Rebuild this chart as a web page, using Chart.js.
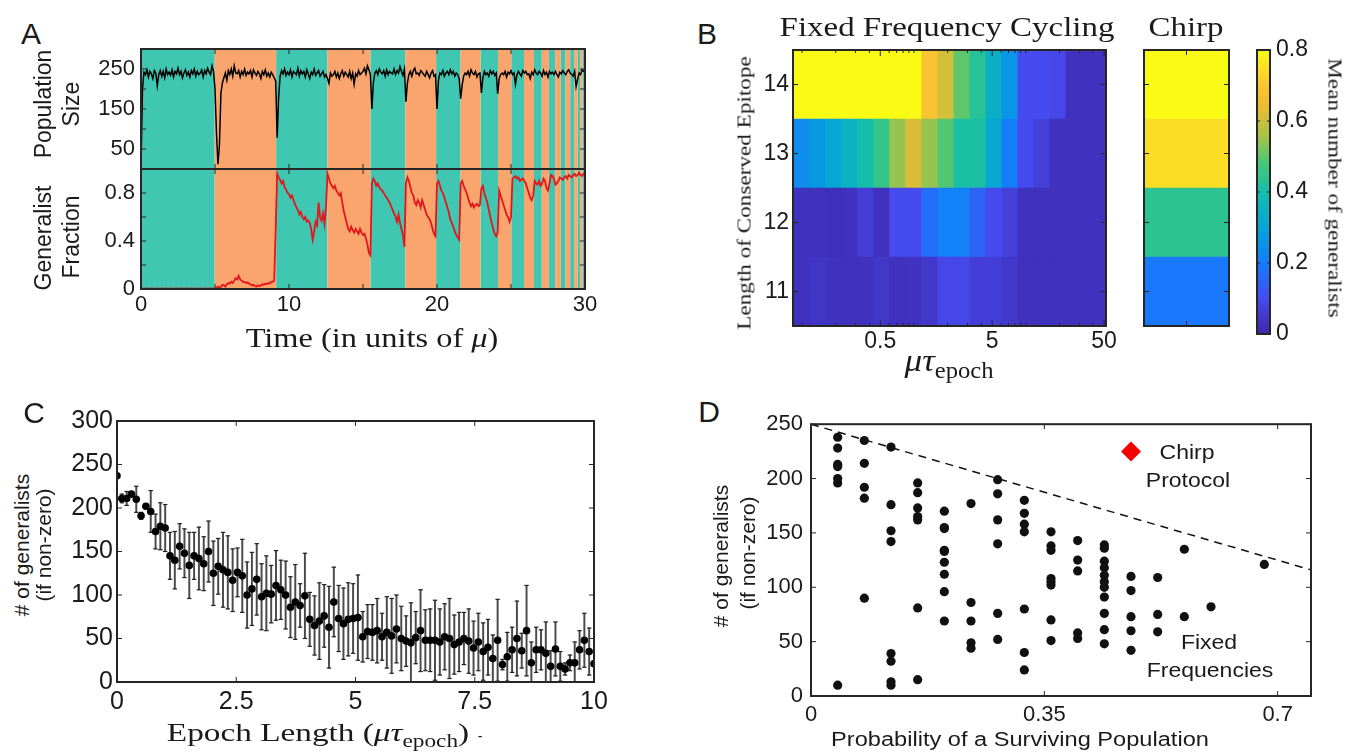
<!DOCTYPE html>
<html>
<head>
<meta charset="utf-8">
<script src="https://cdn.jsdelivr.net/npm/chart.js@4.4.0/dist/chart.umd.min.js"></script>
<style>
  body { margin: 0; background: #fff; }
  #fig { position: relative; width: 1345px; height: 752px; overflow: hidden; background: #fff; }
  canvas { position: absolute; }
  .lbl { position: absolute; white-space: nowrap; line-height: 1; color: #1a1a1a; }
  .sans { font-family: 'Liberation Sans', Arial, sans-serif; }
  .serif { font-family: 'Liberation Serif', 'Times New Roman', serif; }
  .lbl sub { font-size: 70%; vertical-align: -0.3em; font-style: normal; }
</style>
</head>
<body>
<div id="fig">
  <canvas id="popChart"></canvas>
  <canvas id="fracChart"></canvas>
  <canvas id="heatChart"></canvas>
  <canvas id="chirpChart"></canvas>
  <canvas id="barChart"></canvas>
  <canvas id="epochChart"></canvas>
  <canvas id="survChart"></canvas>
</div>
<script>
// ---------- panel A : time series (step 0.1 in units of mu) ----------
const timeStep = 0.1;
const epochEdges = [0, 4.98, 9.13, 12.6, 15.5, 17.86, 19.94, 21.59, 22.94, 24.12, 25.02, 25.88,
  26.55, 27.08, 27.56, 27.99, 28.37, 28.69, 29.0, 29.27, 29.5, 29.68, 29.84, 30];

const popSize = [
  5, 200, 242, 236, 248, 230, 244, 238, 226, 246,
  240, 208, 236, 246, 232, 244, 228, 250, 236, 242,
  234, 248, 230, 244, 238, 252, 236, 244, 228, 240,
  248, 234, 242, 230, 246, 238, 250, 232, 244, 236,
  240, 248, 230, 246, 238, 252, 242, 236, 258, 244,
  200, 90, 12, 60, 190, 215, 228, 240, 222, 246,
  236, 250, 232, 258, 240, 238, 246, 230, 244, 236,
  250, 234, 242, 238, 246, 230, 248, 240, 234, 244,
  238, 226, 244, 236, 248, 232, 240, 230, 242, 236,
  228, 220, 78, 180, 232, 246, 238, 250, 234, 242,
  236, 248, 230, 244, 240, 236, 252, 232, 246, 238,
  244, 230, 248, 238, 226, 242, 236, 250, 234, 240,
  246, 232, 238, 244, 230, 236, 226, 214, 240, 232,
  236, 244, 230, 240, 226, 238, 246, 232, 242, 236,
  230, 244, 226, 240, 212, 238, 232, 246, 236, 240,
  244, 252, 238, 258, 248, 236, 150, 215, 240, 246,
  236, 250, 242, 238, 246, 232, 248, 236, 244, 240,
  238, 250, 236, 246, 240, 256, 244, 234, 250, 168,
  215, 236, 244, 232, 246, 252, 238, 240, 234, 246,
  242, 236, 232, 244, 236, 228, 240, 246, 232, 236,
  150, 222, 240, 236, 246, 232, 240, 244, 236, 248,
  238, 244, 232, 240, 236, 226, 176, 210, 232, 240,
  236, 244, 232, 248, 240, 236, 244, 230, 238, 240,
  190, 228, 244, 236, 240, 232, 246, 238, 244, 234,
  240, 188, 226, 236, 240, 236, 244, 230, 242, 238,
  246, 236, 240, 212, 236, 244, 238, 232, 246, 240,
  244, 236, 238, 226, 242, 236, 248, 240, 236, 244,
  240, 232, 246, 236, 242, 230, 244, 238, 242, 236,
  244, 236, 230, 242, 238, 246, 240, 236, 244, 248,
  240, 236, 232, 244, 206, 224, 240, 236, 248, 244,
  246
];

const genFraction = [
  0.004, 0.003, 0.002, 0.003, 0.004, 0.002, 0.003, 0.004, 0.003, 0.002,
  0.003, 0.004, 0.002, 0.003, 0.004, 0.003, 0.002, 0.004, 0.003, 0.002,
  0.004, 0.003, 0.002, 0.003, 0.004, 0.002, 0.003, 0.004, 0.003, 0.002,
  0.003, 0.004, 0.002, 0.003, 0.004, 0.003, 0.002, 0.004, 0.003, 0.002,
  0.004, 0.003, 0.002, 0.003, 0.004, 0.002, 0.003, 0.004, 0.003, 0.002,
  0.004, 0.01, 0.02, 0.005, 0.02, 0.035, 0.03, 0.02, 0.04, 0.05,
  0.045, 0.06, 0.05, 0.07, 0.09, 0.08, 0.11, 0.08, 0.07, 0.06,
  0.06, 0.05, 0.055, 0.045, 0.04, 0.03, 0.035, 0.025, 0.02, 0.03,
  0.025, 0.03, 0.04, 0.035, 0.045, 0.04, 0.05, 0.045, 0.06, 0.06,
  0.07, 0.5, 0.96, 0.93, 0.91, 0.88, 0.9, 0.85, 0.83, 0.8,
  0.79, 0.76, 0.78, 0.74, 0.71, 0.68, 0.66, 0.62, 0.64, 0.6,
  0.58, 0.6, 0.56, 0.57, 0.55, 0.5, 0.41, 0.48, 0.56, 0.53,
  0.72, 0.6, 0.57, 0.63, 0.54, 0.68, 0.96, 0.92, 0.88, 0.86,
  0.84, 0.86, 0.82, 0.8, 0.78, 0.8, 0.72, 0.65, 0.6, 0.55,
  0.5, 0.48, 0.52, 0.49, 0.47, 0.5, 0.48, 0.46, 0.5, 0.47,
  0.45, 0.46, 0.42, 0.37, 0.3, 0.28, 0.88, 0.92, 0.9, 0.86,
  0.88, 0.85, 0.83, 0.82, 0.8, 0.78, 0.76, 0.74, 0.72, 0.69,
  0.66, 0.63, 0.6, 0.56, 0.62, 0.55, 0.5, 0.45, 0.35, 0.88,
  0.93, 0.9, 0.85, 0.8, 0.78, 0.72, 0.7, 0.74, 0.72, 0.68,
  0.74, 0.7, 0.66, 0.62, 0.6, 0.58, 0.55, 0.5, 0.46, 0.44,
  0.88, 0.9, 0.86, 0.82, 0.8, 0.76, 0.72, 0.68, 0.64, 0.58,
  0.55, 0.52, 0.48, 0.45, 0.43, 0.41, 0.88, 0.9, 0.86, 0.83,
  0.8, 0.76, 0.72, 0.69, 0.71, 0.68, 0.7, 0.71, 0.69, 0.7,
  0.84, 0.86, 0.8, 0.76, 0.72, 0.66, 0.6, 0.55, 0.5, 0.46,
  0.44, 0.47, 0.82, 0.78, 0.74, 0.7, 0.66, 0.62, 0.6, 0.56,
  0.6, 0.92, 0.93, 0.94, 0.92, 0.93, 0.9, 0.91, 0.92, 0.9,
  0.88, 0.84, 0.8, 0.76, 0.74, 0.78, 0.9, 0.88, 0.87, 0.9,
  0.86, 0.88, 0.92, 0.9, 0.84, 0.82, 0.88, 0.95, 0.94, 0.92,
  0.87, 0.88, 0.9, 0.93, 0.92, 0.91, 0.93, 0.94, 0.92, 0.95,
  0.94, 0.93, 0.95, 0.96, 0.94, 0.95, 0.97, 0.95, 0.94, 0.96,
  0.95
];

// ---------- panel B : heat map ----------
const epitopeLengths = ['14', '13', '12', '11'];
const epochLenEdges = [0.083, 0.115, 0.16, 0.222, 0.309, 0.43, 0.598, 0.832, 1.157, 1.61, 2.24,
  3.11, 4.33, 6.02, 8.37, 11.6, 16.2, 22.5, 31.3, 43.6, 52];
const row14 = [0.8, 0.8, 0.8, 0.8, 0.8, 0.8, 0.8, 0.8, 0.69, 0.61, 0.5, 0.43, 0.34, 0.26, 0.1, 0.1, 0.09, 0.03, 0.03, 0.03];
const row13 = [0.24, 0.27, 0.31, 0.35, 0.4, 0.455, 0.545, 0.62, 0.545, 0.49, 0.41, 0.41, 0.31, 0.2, 0.1, 0.07, 0.03, 0.03, 0.03, 0.03];
const row12 = [0.03, 0.03, 0.025, 0.03, 0.065, 0.03, 0.1, 0.1, 0.17, 0.21, 0.21, 0.15, 0.1, 0.07, 0.03, 0.03, 0.03, 0.03, 0.03, 0.03];
const row11 = [0.03, 0.04, 0.035, 0.03, 0.03, 0.045, 0.03, 0.035, 0.05, 0.09, 0.09, 0.065, 0.065, 0.05, 0.03, 0.03, 0.03, 0.03, 0.03, 0.03];
const heatRows = [row14, row13, row12, row11];
const chirpValues = [0.8, 0.745, 0.44, 0.19];
const colorMax = 0.8;

// ---------- panel C : epoch length sweep ----------
const epochStep = 10 / 99;
const genMean = [237, 211, 211, 216, 210, 191, 202, 196, 173, 179,
  177, 145, 140, 156, 148, 134, 145, 142, 136, 150,
  125, 133, 129, 126, 117, 126, 122, 100, 107, 118,
  98, 102, 101, 111, 106, 100, 86, 92, 88, 99,
  72, 65, 70, 76, 63, 92, 73, 67, 72, 73,
  74, 52, 58, 57, 59, 52, 57, 53, 61, 50,
  47, 45, 51, 59, 48, 48, 48, 46, 52, 50,
  43, 46, 50, 47, 39, 46, 35, 40, 27, 48,
  20, 29, 37, 50, 36, 59, 22, 37, 37, 33,
  18, 38, 18, 15, 22, 22, 37, 48, 35, 21];
const genErr = [2, 5, 8, 3, 15, 4, 3, 24, 20, 27,
  27, 27, 33, 26, 28, 38, 27, 36, 31, 35,
  37, 32, 43, 42, 36, 28, 42, 38, 42, 41,
  38, 43, 33, 40, 34, 39, 35, 43, 25, 49,
  31, 34, 44, 36, 47, 40, 38, 41, 42, 40,
  49, 29, 31, 32, 37, 27, 41, 43, 39, 37,
  29, 46, 30, 47, 35, 36, 46, 38, 38, 46,
  34, 34, 30, 37, 31, 33, 33, 32, 27, 47,
  6, 28, 26, 43, 20, 52, 24, 26, 23, 36,
  18, 31, 17, 7, 9, 24, 22, 31, 27, 3];

// ---------- panel D : survival vs generalists ----------
const survProb = [0.04, 0.04, 0.04, 0.04, 0.04, 0.04, 0.04,
  0.08, 0.08, 0.08, 0.08, 0.08,
  0.12, 0.12, 0.12, 0.12, 0.12, 0.12, 0.12, 0.12,
  0.16, 0.16, 0.16, 0.16, 0.16, 0.16, 0.16,
  0.2, 0.2, 0.2, 0.2, 0.2, 0.2, 0.2, 0.2, 0.2,
  0.24, 0.24, 0.24, 0.24, 0.24,
  0.28, 0.28, 0.28, 0.28, 0.28, 0.28,
  0.32, 0.32, 0.32, 0.32, 0.32, 0.32, 0.32,
  0.36, 0.36, 0.36, 0.36, 0.36, 0.36, 0.36, 0.36,
  0.4, 0.4, 0.4, 0.4, 0.4,
  0.44, 0.44, 0.44, 0.44, 0.44, 0.44, 0.44, 0.44, 0.44, 0.44, 0.44,
  0.48, 0.48, 0.48, 0.48, 0.48,
  0.52, 0.52, 0.52,
  0.56, 0.56,
  0.6,
  0.68];
const survGen = [238, 228, 213, 211, 200, 196, 10,
  235, 214, 192, 182, 90,
  229, 176, 152, 142, 39, 32, 13, 10,
  196, 187, 173, 165, 162, 81, 15,
  170, 155, 154, 134, 133, 123, 112, 96, 69,
  177, 86, 69, 49, 44,
  199, 186, 162, 140, 76, 52,
  180, 168, 158, 151, 80, 40, 24,
  151, 138, 134, 108, 105, 102, 70, 51,
  143, 125, 115, 58, 53,
  139, 136, 124, 118, 111, 105, 100, 91, 76, 61, 48,
  110, 97, 73, 60, 42,
  109, 75, 59,
  135, 73,
  82,
  121];
const chirpPoint = { x: 0.48, y: 225 };
const boundLine = [{ x: 0, y: 250 }, { x: 0.75, y: 116 }];

// ---------- style ----------
const TEAL = 'rgb(64,199,178)';
const ORANGE = 'rgb(251,165,110)';
const SANS = "'Liberation Sans', Arial, sans-serif";
Chart.defaults.font.family = SANS;
Chart.defaults.color = '#1a1a1a';

const PARULA = [
  [0, 62, 38, 168], [0.125, 70, 75, 240], [0.25, 20, 125, 252], [0.375, 5, 165, 215],
  [0.5, 20, 190, 170], [0.6, 70, 200, 120], [0.7, 170, 195, 70], [0.8, 235, 188, 50],
  [0.875, 253, 196, 50], [1, 249, 251, 20]
];
function parula(t) {
  t = Math.max(0, Math.min(1, t));
  for (let i = 1; i < PARULA.length; i++) {
    if (t <= PARULA[i][0]) {
      const a = PARULA[i - 1], b = PARULA[i];
      const f = (t - a[0]) / (b[0] - a[0]);
      return 'rgb(' + [1, 2, 3].map(k => Math.round(a[k] + f * (b[k] - a[k]))).join(',') + ')';
    }
  }
  return 'rgb(249,251,20)';
}

// inward tick marks + box frame, like matlab axes
const boxTicks = {
  id: 'boxTicks',
  afterDatasetsDraw(chart, args, opts) {
    if (!opts || !opts.frameWidth) return;
    const { ctx, chartArea: a } = chart;
    ctx.save();
    ctx.strokeStyle = '#262626';
    ctx.lineWidth = 1;
    ctx.beginPath();
    ['x', 'y'].forEach(id => {
      const spec = opts[id], sc = chart.scales[id];
      if (!spec || !sc) return;
      sc.ticks.forEach((t, i) => {
        const p = sc.getPixelForTick(i);
        const len = spec.major && spec.major.includes(t.value) ? spec.majorLen : spec.len;
        spec.sides.forEach(side => {
          if (side === 'bottom') { ctx.moveTo(p, a.bottom); ctx.lineTo(p, a.bottom - len); }
          if (side === 'top') { ctx.moveTo(p, a.top); ctx.lineTo(p, a.top + len); }
          if (side === 'left') { ctx.moveTo(a.left, p); ctx.lineTo(a.left + len, p); }
          if (side === 'right') { ctx.moveTo(a.right, p); ctx.lineTo(a.right - len, p); }
        });
      });
    });
    ctx.stroke();
    ctx.lineWidth = opts.frameWidth;
    ctx.strokeRect(a.left, a.top, a.right - a.left, a.bottom - a.top);
    ctx.restore();
  }
};
Chart.register(boxTicks);

const M = 20; // canvas margin round the plotting box
function place(id, area, ax) {
  const cv = document.getElementById(id);
  const l = ax.l || 0, r = ax.r || 0, b = ax.b || 0;
  const w = area.r - area.l + l + r + 2 * M;
  const h = area.b - area.t + b + 2 * M;
  cv.width = w; cv.height = h;
  cv.style.width = w + 'px'; cv.style.height = h + 'px';
  cv.style.left = (area.l - l - M) + 'px';
  cv.style.top = (area.t - M) + 'px';
  return cv;
}
const fixW = w => s => { s.width = w; };
const fixH = h => s => { s.height = h; };
const noGrid = { display: false, drawTicks: false };
const noBorder = { display: false };

function baseOptions(extra) {
  return Object.assign({
    responsive: false, animation: false, devicePixelRatio: 1, events: [],
    layout: { padding: M }
  }, extra);
}
const quiet = { legend: { display: false }, tooltip: { enabled: false } };

function bandSeries(yTop, which) {
  const pts = [];
  for (let i = 0; i < epochEdges.length - 1; i++) {
    pts.push({ x: epochEdges[i], y: i % 2 === which ? yTop : 0 });
  }
  pts.push({ x: epochEdges[epochEdges.length - 1], y: 0 });
  return pts;
}
function bandDatasets(yTop) {
  return [
    { data: bandSeries(yTop, 1), stepped: 'before', fill: 'origin', backgroundColor: ORANGE, borderWidth: 0, pointRadius: 0, order: 1 },
    { data: bandSeries(yTop, 0), stepped: 'before', fill: 'origin', backgroundColor: TEAL, borderWidth: 0, pointRadius: 0, order: 2 }
  ];
}

// ---------- A top: population size ----------
new Chart(place('popChart', { l: 141, t: 49, r: 585, b: 169 }, { l: 70 }), {
  type: 'line',
  data: {
    datasets: [
      { data: popSize.map((v, i) => ({ x: i * timeStep, y: v })), borderColor: '#000', borderWidth: 1.5, pointRadius: 0, tension: 0, order: 0 },
      ...bandDatasets(300)
    ]
  },
  options: baseOptions({
    plugins: Object.assign({ boxTicks: { frameWidth: 2, x: { len: 5, sides: ['top', 'bottom'] }, y: { len: 5, sides: ['left', 'right'] } } }, quiet),
    scales: {
      x: { type: 'linear', min: 0, max: 30, afterFit: fixH(0), grid: noGrid, border: noBorder,
        ticks: { stepSize: 5, autoSkip: false, callback: () => '' } },
      y: { min: 0, max: 300, afterFit: fixW(70), grid: noGrid, border: noBorder,
        ticks: { stepSize: 50, padding: 6, autoSkip: false, font: { size: 22 }, callback: v => (v % 100 === 50 ? String(v) : '') } }
    }
  })
});

// ---------- A bottom: generalist fraction ----------
new Chart(place('fracChart', { l: 141, t: 169, r: 585, b: 289 }, { l: 70, b: 36 }), {
  type: 'line',
  data: {
    datasets: [
      { data: genFraction.map((v, i) => ({ x: i * timeStep, y: v })), borderColor: '#e3161b', borderWidth: 1.8, pointRadius: 0, tension: 0, order: 0 },
      ...bandDatasets(1)
    ]
  },
  options: baseOptions({
    plugins: Object.assign({ boxTicks: { frameWidth: 2, x: { len: 5, sides: ['top', 'bottom'] }, y: { len: 5, sides: ['left', 'right'] } } }, quiet),
    scales: {
      x: { type: 'linear', min: 0, max: 30, afterFit: fixH(36), grid: noGrid, border: noBorder,
        ticks: { stepSize: 5, padding: 3, font: { size: 22 }, maxRotation: 0, autoSkip: false,
          callback: v => (v % 10 === 0 ? String(v) : '') } },
      y: { min: 0, max: 1, afterFit: fixW(70), grid: noGrid, border: noBorder,
        ticks: { stepSize: 0.2, padding: 6, font: { size: 22 }, autoSkip: false,
          callback: v => { const r = Math.round(v * 10); return r === 0 ? '0' : (r === 4 || r === 8 ? (r / 10).toString() : ''); } } }
    }
  })
});

// ---------- B: fixed frequency heat map ----------
const heatTicks = [0.1, 0.2, 0.3, 0.4, 0.5, 0.6, 0.7, 0.8, 0.9, 1, 2, 3, 4, 5, 6, 7, 8, 9, 10, 20, 30, 40, 50];
const heatLabels = [0.5, 5, 50];
new Chart(place('heatChart', { l: 793, t: 50, r: 1106, b: 326 }, { l: 44, b: 34 }), {
  type: 'bar',
  data: {
    labels: epitopeLengths,
    datasets: epochLenEdges.slice(0, -1).map((e, c) => ({
      data: heatRows.map(() => [epochLenEdges[c], epochLenEdges[c + 1]]),
      backgroundColor: heatRows.map(row => parula(row[c] / colorMax)),
      borderWidth: 0, grouped: false, categoryPercentage: 1, barPercentage: 1
    }))
  },
  options: baseOptions({
    indexAxis: 'y',
    plugins: Object.assign({ boxTicks: { frameWidth: 2,
      x: { len: 3, majorLen: 6, major: heatLabels, sides: ['top', 'bottom'] },
      y: { len: 5, sides: ['left', 'right'] } } }, quiet),
    scales: {
      x: { type: 'logarithmic', min: 0.083, max: 52, afterFit: fixH(34), grid: noGrid, border: noBorder,
        afterBuildTicks: s => { s.ticks = heatTicks.map(v => ({ value: v })); },
        ticks: { padding: 2, font: { size: 23 }, maxRotation: 0, autoSkip: false,
          callback: v => (heatLabels.includes(v) ? String(v) : '') } },
      y: { type: 'category', afterFit: fixW(44), grid: noGrid, border: noBorder,
        ticks: { padding: 4, font: { size: 23 }, autoSkip: false } }
    }
  })
});

// ---------- B: chirp column ----------
new Chart(place('chirpChart', { l: 1144, t: 50, r: 1229, b: 326 }, {}), {
  type: 'bar',
  data: {
    labels: epitopeLengths,
    datasets: [{
      data: chirpValues.map(() => [0, 1]),
      backgroundColor: chirpValues.map(v => parula(v / colorMax)),
      borderWidth: 0, categoryPercentage: 1, barPercentage: 1
    }]
  },
  options: baseOptions({
    indexAxis: 'y',
    plugins: Object.assign({ boxTicks: { frameWidth: 2, x: { len: 5, sides: ['bottom', 'top'] }, y: { len: 5, sides: ['right', 'left'] } } }, quiet),
    scales: {
      x: { type: 'linear', min: 0, max: 1, afterFit: fixH(0), grid: noGrid, border: noBorder,
        afterBuildTicks: s => { s.ticks = [{ value: 0.5 }]; }, ticks: { callback: () => '' } },
      y: { type: 'category', afterFit: fixW(0), grid: noGrid, border: noBorder, ticks: { autoSkip: false, callback: () => '' } }
    }
  })
});

// ---------- B: colour bar ----------
new Chart(place('barChart', { l: 1257, t: 50, r: 1270, b: 334 }, { r: 55 }), {
  type: 'bar',
  data: {
    labels: [''],
    datasets: [{
      data: [[0, colorMax]],
      backgroundColor: ctx => {
        const a = ctx.chart.chartArea;
        if (!a) return TEAL;
        const g = ctx.chart.ctx.createLinearGradient(0, a.bottom, 0, a.top);
        PARULA.forEach(p => g.addColorStop(p[0], `rgb(${p[1]},${p[2]},${p[3]})`));
        return g;
      },
      borderWidth: 0, categoryPercentage: 1, barPercentage: 1
    }]
  },
  options: baseOptions({
    plugins: Object.assign({ boxTicks: { frameWidth: 2, y: { len: 3, sides: ['left', 'right'] } } }, quiet),
    scales: {
      x: { afterFit: fixH(0), grid: noGrid, border: noBorder, ticks: { callback: () => '' } },
      y: { position: 'right', min: 0, max: colorMax, afterFit: fixW(55), grid: noGrid, border: noBorder,
        ticks: { stepSize: 0.2, padding: 6, autoSkip: false, font: { size: 23 }, callback: v => String(+v.toFixed(1)) } }
    }
  })
});

// ---------- C: generalists vs epoch length ----------
const cX = genMean.map((v, i) => i * epochStep);
new Chart(place('epochChart', { l: 117, t: 421, r: 594, b: 682 }, { l: 60, b: 40 }), {
  type: 'bar',
  data: {
    datasets: [
      { type: 'scatter', data: genMean.map((v, i) => ({ x: cX[i], y: v })), pointRadius: 3.8, backgroundColor: '#000', borderWidth: 0, order: 0 },
      { type: 'scatter', data: genMean.flatMap((v, i) => [{ x: cX[i], y: v + genErr[i] }, { x: cX[i], y: v - genErr[i] }]),
        pointStyle: 'line', pointRadius: 2.2, borderColor: '#222', borderWidth: 1.2, order: 1 },
      { type: 'bar', data: genMean.map((v, i) => ({ x: cX[i], y: [v - genErr[i], v + genErr[i]] })),
        barThickness: 1.3, backgroundColor: '#4a4a4a', borderWidth: 0, order: 2 }
    ]
  },
  options: baseOptions({
    plugins: Object.assign({ boxTicks: { frameWidth: 2, x: { len: 5, sides: ['top', 'bottom'] }, y: { len: 5, sides: ['left', 'right'] } } }, quiet),
    scales: {
      x: { type: 'linear', min: 0, max: 10, offset: false, afterFit: fixH(40), grid: noGrid, border: noBorder,
        ticks: { stepSize: 2.5, padding: 5, font: { size: 25 }, maxRotation: 0, autoSkip: false, callback: v => String(v) } },
      y: { min: 0, max: 300, afterFit: fixW(60), grid: noGrid, border: noBorder,
        ticks: { stepSize: 50, padding: 4, font: { size: 25 }, autoSkip: false } }
    }
  })
});

// ---------- D: generalists vs survival probability ----------
new Chart(place('survChart', { l: 811, t: 423, r: 1311, b: 696 }, { l: 60, b: 36 }), {
  type: 'scatter',
  data: {
    datasets: [
      { data: survProb.map((p, i) => ({ x: p, y: survGen[i] })), pointRadius: 4.6, backgroundColor: '#111', borderWidth: 0, order: 1 },
      { data: [chirpPoint], pointStyle: 'rectRot', pointRadius: 10, backgroundColor: '#f40000', borderWidth: 0, order: 0 },
      { data: boundLine, showLine: true, borderColor: '#111', borderWidth: 1.5, borderDash: [8, 6], pointRadius: 0, order: 2 }
    ]
  },
  options: baseOptions({
    plugins: Object.assign({ boxTicks: { frameWidth: 2, x: { len: 5, sides: ['top', 'bottom'] }, y: { len: 5, sides: ['left', 'right'] } } }, quiet),
    scales: {
      x: { type: 'linear', min: 0, max: 0.75, afterFit: fixH(36), grid: noGrid, border: noBorder,
        afterBuildTicks: s => { s.ticks = [0, 0.35, 0.7].map(v => ({ value: v })); },
        ticks: { padding: 6, font: { size: 22 }, maxRotation: 0, autoSkip: false, callback: v => String(v) } },
      y: { min: 0, max: 250, afterFit: fixW(60), grid: noGrid, border: noBorder,
        ticks: { stepSize: 50, padding: 8, font: { size: 22 }, autoSkip: false } }
    }
  })
});

// ---------- text ----------
const fig = document.getElementById('fig');
function addText(html, cx, cy, o) {
  const d = document.createElement('div');
  d.className = 'lbl ' + (o.serif ? 'serif' : 'sans');
  d.innerHTML = html;
  d.style.left = cx + 'px';
  d.style.top = cy + 'px';
  d.style.fontSize = o.size + 'px';
  d.style.transform = `translate(-50%,-50%) rotate(${o.rot || 0}deg) scaleX(${o.sx || 1})`;
  fig.appendChild(d);
}
addText('A', 31, 34, { size: 30 });
addText('B', 707, 34, { size: 30 });
addText('C', 34, 413, { size: 30 });
addText('D', 709, 412, { size: 30 });

addText('Population', 43, 104, { size: 23, rot: -90 });
addText('Size', 71, 104, { size: 23, rot: -90 });
addText('Generalist', 43, 238, { size: 23, rot: -90 });
addText('Fraction', 71, 237, { size: 23, rot: -90 });
addText('Time (in units of <i>μ</i>)', 372, 338, { size: 27, serif: true, sx: 1.2 });

addText('Fixed Frequency Cycling', 947, 27, { size: 27, serif: true, sx: 1.22 });
addText('Chirp', 1186, 27, { size: 27, serif: true, sx: 1.22 });
addText('Length of Conserved Epitope', 744, 193, { size: 19, serif: true, sx: 1.22, rot: -90 });
addText('<i>μτ</i><sub>epoch</sub>', 949, 363, { size: 32, serif: true, sx: 1.1 });
addText('Mean number of generalists', 1335, 188, { size: 19, serif: true, sx: 1.22, rot: 90 });

addText('# of generalists', 21, 545, { size: 21, rot: -90 });
addText('(if non-zero)', 43, 545, { size: 21, rot: -90 });
addText('Epoch Length (<i>μτ</i><sub>epoch</sub>)', 318, 735, { size: 26, serif: true, sx: 1.28 });
addText('-', 480, 736, { size: 14 });

addText('# of generalists', 720, 556, { size: 21, rot: -90 });
addText('(if non-zero)', 747, 553, { size: 21, rot: -90 });
addText('Probability of a Surviving Population', 1020, 739, { size: 20, sx: 1.18 });
addText('Chirp', 1187, 452, { size: 20, sx: 1.15 });
addText('Protocol', 1188, 480, { size: 20, sx: 1.15 });
addText('Fixed', 1209, 642, { size: 20, sx: 1.15 });
addText('Frequencies', 1210, 670, { size: 20, sx: 1.15 });
</script>
</body>
</html>
